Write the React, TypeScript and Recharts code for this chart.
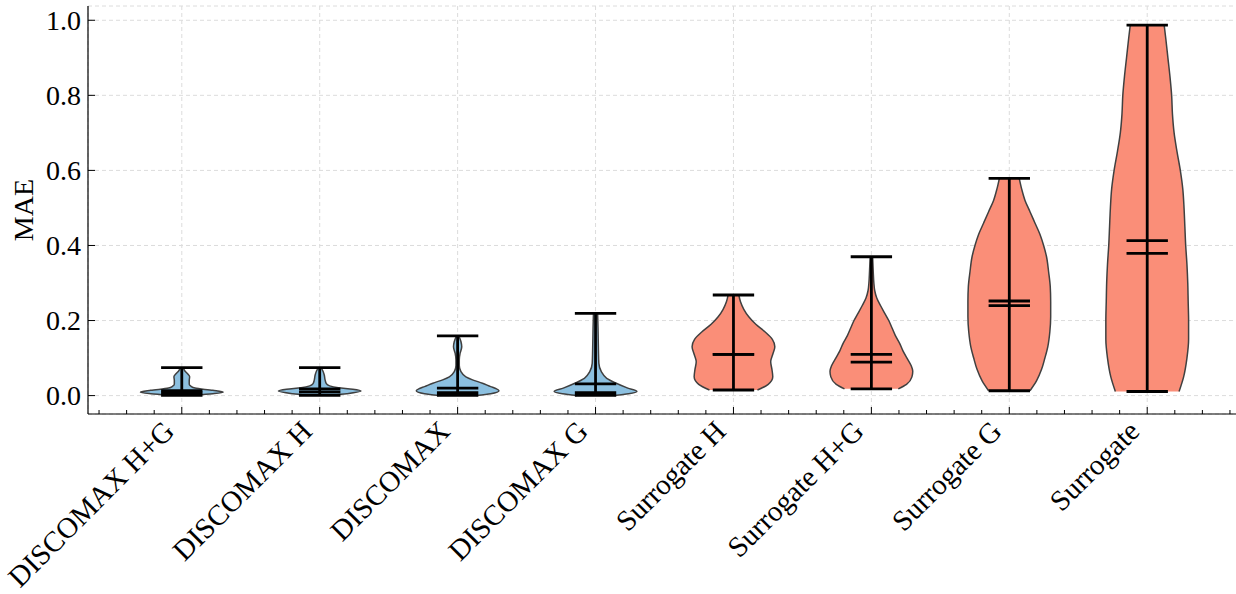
import React from "react";
import {
  ComposedChart,
  Area,
  XAxis,
  YAxis,
  CartesianGrid,
  ReferenceLine,
} from "recharts";

const categories = [
  "DISCOMAX H+G",
  "DISCOMAX H",
  "DISCOMAX",
  "DISCOMAX G",
  "Surrogate H",
  "Surrogate H+G",
  "Surrogate G",
  "Surrogate",
];
const positions = [1, 2, 3, 4, 5, 6, 7, 8];
const minValues = [0.001, 0.001, 0.0005, 0.0005, 0.015, 0.018, 0.013, 0.011];
const maxValues = [0.0745, 0.0745, 0.159, 0.219, 0.268, 0.37, 0.579, 0.987];
const meanValues = [0.013, 0.018, 0.0197, 0.031, 0.11, 0.11, 0.252, 0.413];
const medianValues = [0.007, 0.01, 0.008, 0.008, 0.11, 0.089, 0.24, 0.379];
const fillColors = [
  "#8cc0e0", "#8cc0e0", "#8cc0e0", "#8cc0e0",
  "#fa8e78", "#fa8e78", "#fa8e78", "#fa8e78",
];
const yTicks = [0, 0.2, 0.4, 0.6, 0.8, 1.0];

// density profiles: [MAE value, relative half-width]
const profDiscomaxHG: [number, number][] = [
  [0.001, 0.3], [0.005, 0.75], [0.009, 1.0], [0.014, 0.75], [0.02, 0.32],
  [0.025, 0.22], [0.03, 0.18], [0.04, 0.18], [0.05, 0.19], [0.058, 0.14],
  [0.065, 0.08], [0.0745, 0.03],
];
const profDiscomaxH: [number, number][] = [
  [0.001, 0.3], [0.005, 0.65], [0.012, 1.0], [0.017, 0.8], [0.021, 0.45],
  [0.026, 0.24], [0.032, 0.16], [0.042, 0.13], [0.055, 0.11], [0.065, 0.08],
  [0.0745, 0.03],
];
const profDiscomax: [number, number][] = [
  [0.0005, 0.45], [0.005, 0.8], [0.013, 1.0], [0.019, 0.92], [0.024, 0.8],
  [0.033, 0.6], [0.042, 0.36], [0.05, 0.2], [0.064, 0.08], [0.08, 0.04],
  [0.095, 0.04], [0.113, 0.06], [0.13, 0.1], [0.144, 0.08], [0.159, 0.03],
];
const profDiscomaxG: [number, number][] = [
  [0.0005, 0.45], [0.005, 0.8], [0.011, 1.0], [0.02, 0.78], [0.033, 0.5],
  [0.046, 0.27], [0.064, 0.14], [0.086, 0.08], [0.12, 0.07], [0.18, 0.06],
  [0.219, 0.05],
];
const profSurrogateH: [number, number][] = [
  [0.015, 0.58], [0.03, 0.84], [0.05, 0.95], [0.07, 0.93], [0.09, 0.9],
  [0.11, 0.95], [0.13, 1.0], [0.15, 0.94], [0.17, 0.76], [0.19, 0.54],
  [0.21, 0.37], [0.23, 0.25], [0.25, 0.17], [0.268, 0.13],
];
const profSurrogateHG: [number, number][] = [
  [0.018, 0.65], [0.03, 0.85], [0.05, 0.98], [0.065, 1.0], [0.08, 0.96],
  [0.1, 0.86], [0.12, 0.76], [0.14, 0.68], [0.16, 0.58], [0.18, 0.5],
  [0.2, 0.42], [0.22, 0.32], [0.24, 0.22], [0.26, 0.13], [0.28, 0.08],
  [0.3, 0.06], [0.33, 0.045], [0.37, 0.03],
];
const profSurrogateG: [number, number][] = [
  [0.013, 0.5], [0.04, 0.66], [0.07, 0.78], [0.1, 0.86], [0.13, 0.93],
  [0.17, 0.98], [0.21, 1.0], [0.25, 1.0], [0.29, 0.99], [0.33, 0.95],
  [0.37, 0.9], [0.4, 0.83], [0.43, 0.74], [0.46, 0.62], [0.49, 0.5],
  [0.52, 0.38], [0.55, 0.3], [0.579, 0.24],
];
const profSurrogate: [number, number][] = [
  [0.011, 0.77], [0.05, 0.88], [0.1, 0.96], [0.15, 1.0], [0.2, 1.0],
  [0.25, 0.99], [0.3, 0.98], [0.35, 0.96], [0.4, 0.93], [0.45, 0.91],
  [0.5, 0.89], [0.55, 0.86], [0.6, 0.8], [0.65, 0.72], [0.7, 0.65],
  [0.75, 0.61], [0.8, 0.59], [0.85, 0.55], [0.9, 0.5], [0.95, 0.45],
  [0.987, 0.41],
];
const profiles = [
  profDiscomaxHG, profDiscomaxH, profDiscomax, profDiscomaxG,
  profSurrogateH, profSurrogateHG, profSurrogateG, profSurrogate,
];

const HALF_WIDTH = 0.3; // violin width 0.6 in x units
const CAP_HALF = 0.15;
const X_DOMAIN: [number, number] = [0.32, 8.68];
const Y_DOMAIN: [number, number] = [-0.049, 1.038];
const FONT = "'Liberation Serif', 'Times New Roman', serif";

// minor + major tick positions along x (every 0.2)
const xTickPositions: number[] = [];
for (let k = 2; k <= 43; k++) xTickPositions.push(Math.round(k * 20) / 100);

const isMajor = (v: number) => Math.abs(v - Math.round(v)) < 1e-6;

function BottomTick(props: any) {
  const { x, y, payload } = props;
  const v = payload.value;
  const major = isMajor(v);
  const idx = positions.indexOf(Math.round(v));
  const lx = x - 6;
  const ly = y + 19;
  return (
    <g>
      <line x1={x} x2={x} y1={y} y2={y - (major ? 7 : 4)} stroke="#000" strokeWidth={1} />
      {major && idx >= 0 && (
        <text
          x={lx}
          y={ly}
          transform={`rotate(-45, ${lx}, ${ly})`}
          textAnchor="end"
          fontSize={29}
          fontFamily={FONT}
          fill="#000"
        >
          {categories[idx]}
        </text>
      )}
    </g>
  );
}

function TopTick(props: any) {
  const { x, y, payload } = props;
  const major = isMajor(payload.value);
  return <line x1={x} x2={x} y1={y} y2={y + (major ? 7 : 4)} stroke="#000" strokeWidth={1} />;
}

function LeftTick(props: any) {
  const { x, y, payload } = props;
  return (
    <g>
      <line x1={x} x2={x + 7} y1={y} y2={y} stroke="#000" strokeWidth={1} />
      <text x={x - 7} y={y} dy="0.34em" textAnchor="end" fontSize={28} fontFamily={FONT} fill="#000">
        {payload.value.toFixed(1)}
      </text>
    </g>
  );
}

function RightTick(props: any) {
  const { x, y } = props;
  return <line x1={x} x2={x - 7} y1={y} y2={y} stroke="#000" strokeWidth={1} />;
}

function MaeLabel(props: any) {
  const vb = props.viewBox || { x: 0, y: 6, width: 88, height: 408 };
  const lx = vb.x + 33;
  const ly = vb.y + vb.height / 2;
  return (
    <text
      x={lx}
      y={ly}
      transform={`rotate(-90, ${lx}, ${ly})`}
      textAnchor="middle"
      fontSize={28}
      fontFamily={FONT}
      fill="#000"
    >
      MAE
    </text>
  );
}

export default function App() {
  const violins = profiles.map((prof, i) =>
    prof.map(([v, w]) => ({
      v,
      band: [positions[i] - w * HALF_WIDTH, positions[i] + w * HALF_WIDTH],
    }))
  );

  const lineStyle = { stroke: "#000", strokeWidth: 2.8 };

  return (
    <div
      style={{
        position: "absolute",
        left: 0,
        top: 0,
        width: 1236,
        height: 594,
        overflow: "hidden",
        background: "#fff",
      }}
    >
      <ComposedChart
        width={1250}
        height={594}
        layout="vertical"
        margin={{ top: 6, right: 9, bottom: 0, left: 0 }}
      >
        <XAxis
          xAxisId="g"
          type="number"
          domain={X_DOMAIN}
          ticks={positions}
          allowDataOverflow
          hide
        />
        <CartesianGrid
          xAxisId="g"
          yAxisId="l"
          stroke="#dcdcdc"
          strokeDasharray="4 3"
          strokeWidth={1}
        />
        <XAxis
          xAxisId="b"
          type="number"
          orientation="bottom"
          domain={X_DOMAIN}
          ticks={xTickPositions}
          interval={0}
          allowDataOverflow
          height={180}
          tickSize={0}
          tickMargin={0}
          tickLine={false}
          axisLine={{ stroke: "#000", strokeWidth: 1.2 }}
          tick={<BottomTick />}
        />
        <XAxis
          xAxisId="t"
          type="number"
          orientation="top"
          domain={X_DOMAIN}
          ticks={xTickPositions}
          interval={0}
          allowDataOverflow
          height={0}
          tickSize={0}
          tickMargin={0}
          tickLine={false}
          axisLine={{ stroke: "#000", strokeWidth: 1.2 }}
          tick={<TopTick />}
        />
        <YAxis
          yAxisId="l"
          type="number"
          dataKey="v"
          orientation="left"
          domain={Y_DOMAIN}
          ticks={yTicks}
          interval={0}
          allowDataOverflow
          reversed
          width={88}
          tickSize={0}
          tickMargin={0}
          tickLine={false}
          axisLine={{ stroke: "#000", strokeWidth: 1.2 }}
          tick={<LeftTick />}
          label={<MaeLabel />}
        />
        <YAxis
          yAxisId="r"
          type="number"
          orientation="right"
          domain={Y_DOMAIN}
          ticks={yTicks}
          interval={0}
          allowDataOverflow
          reversed
          width={0}
          tickSize={0}
          tickMargin={0}
          tickLine={false}
          axisLine={{ stroke: "#000", strokeWidth: 1.2 }}
          tick={<RightTick />}
        />
        {violins.map((data, i) => (
          <Area
            key={`violin-${i}`}
            data={data}
            dataKey="band"
            xAxisId="b"
            yAxisId="l"
            type="monotone"
            fill={fillColors[i]}
            fillOpacity={1}
            stroke="#404040"
            strokeWidth={1.5}
            dot={false}
            activeDot={false}
            isAnimationActive={false}
          />
        ))}
        {positions.map((p, i) => (
          <ReferenceLine
            key={`stem-${i}`}
            xAxisId="b"
            yAxisId="l"
            segment={[{ x: p, y: minValues[i] }, { x: p, y: maxValues[i] }]}
            {...lineStyle}
          />
        ))}
        {[minValues, maxValues, meanValues, medianValues].map((vals, k) =>
          positions.map((p, i) => (
            <ReferenceLine
              key={`cap-${k}-${i}`}
              xAxisId="b"
              yAxisId="l"
              segment={[
                { x: p - CAP_HALF, y: vals[i] },
                { x: p + CAP_HALF, y: vals[i] },
              ]}
              {...lineStyle}
            />
          ))
        )}
      </ComposedChart>
    </div>
  );
}
